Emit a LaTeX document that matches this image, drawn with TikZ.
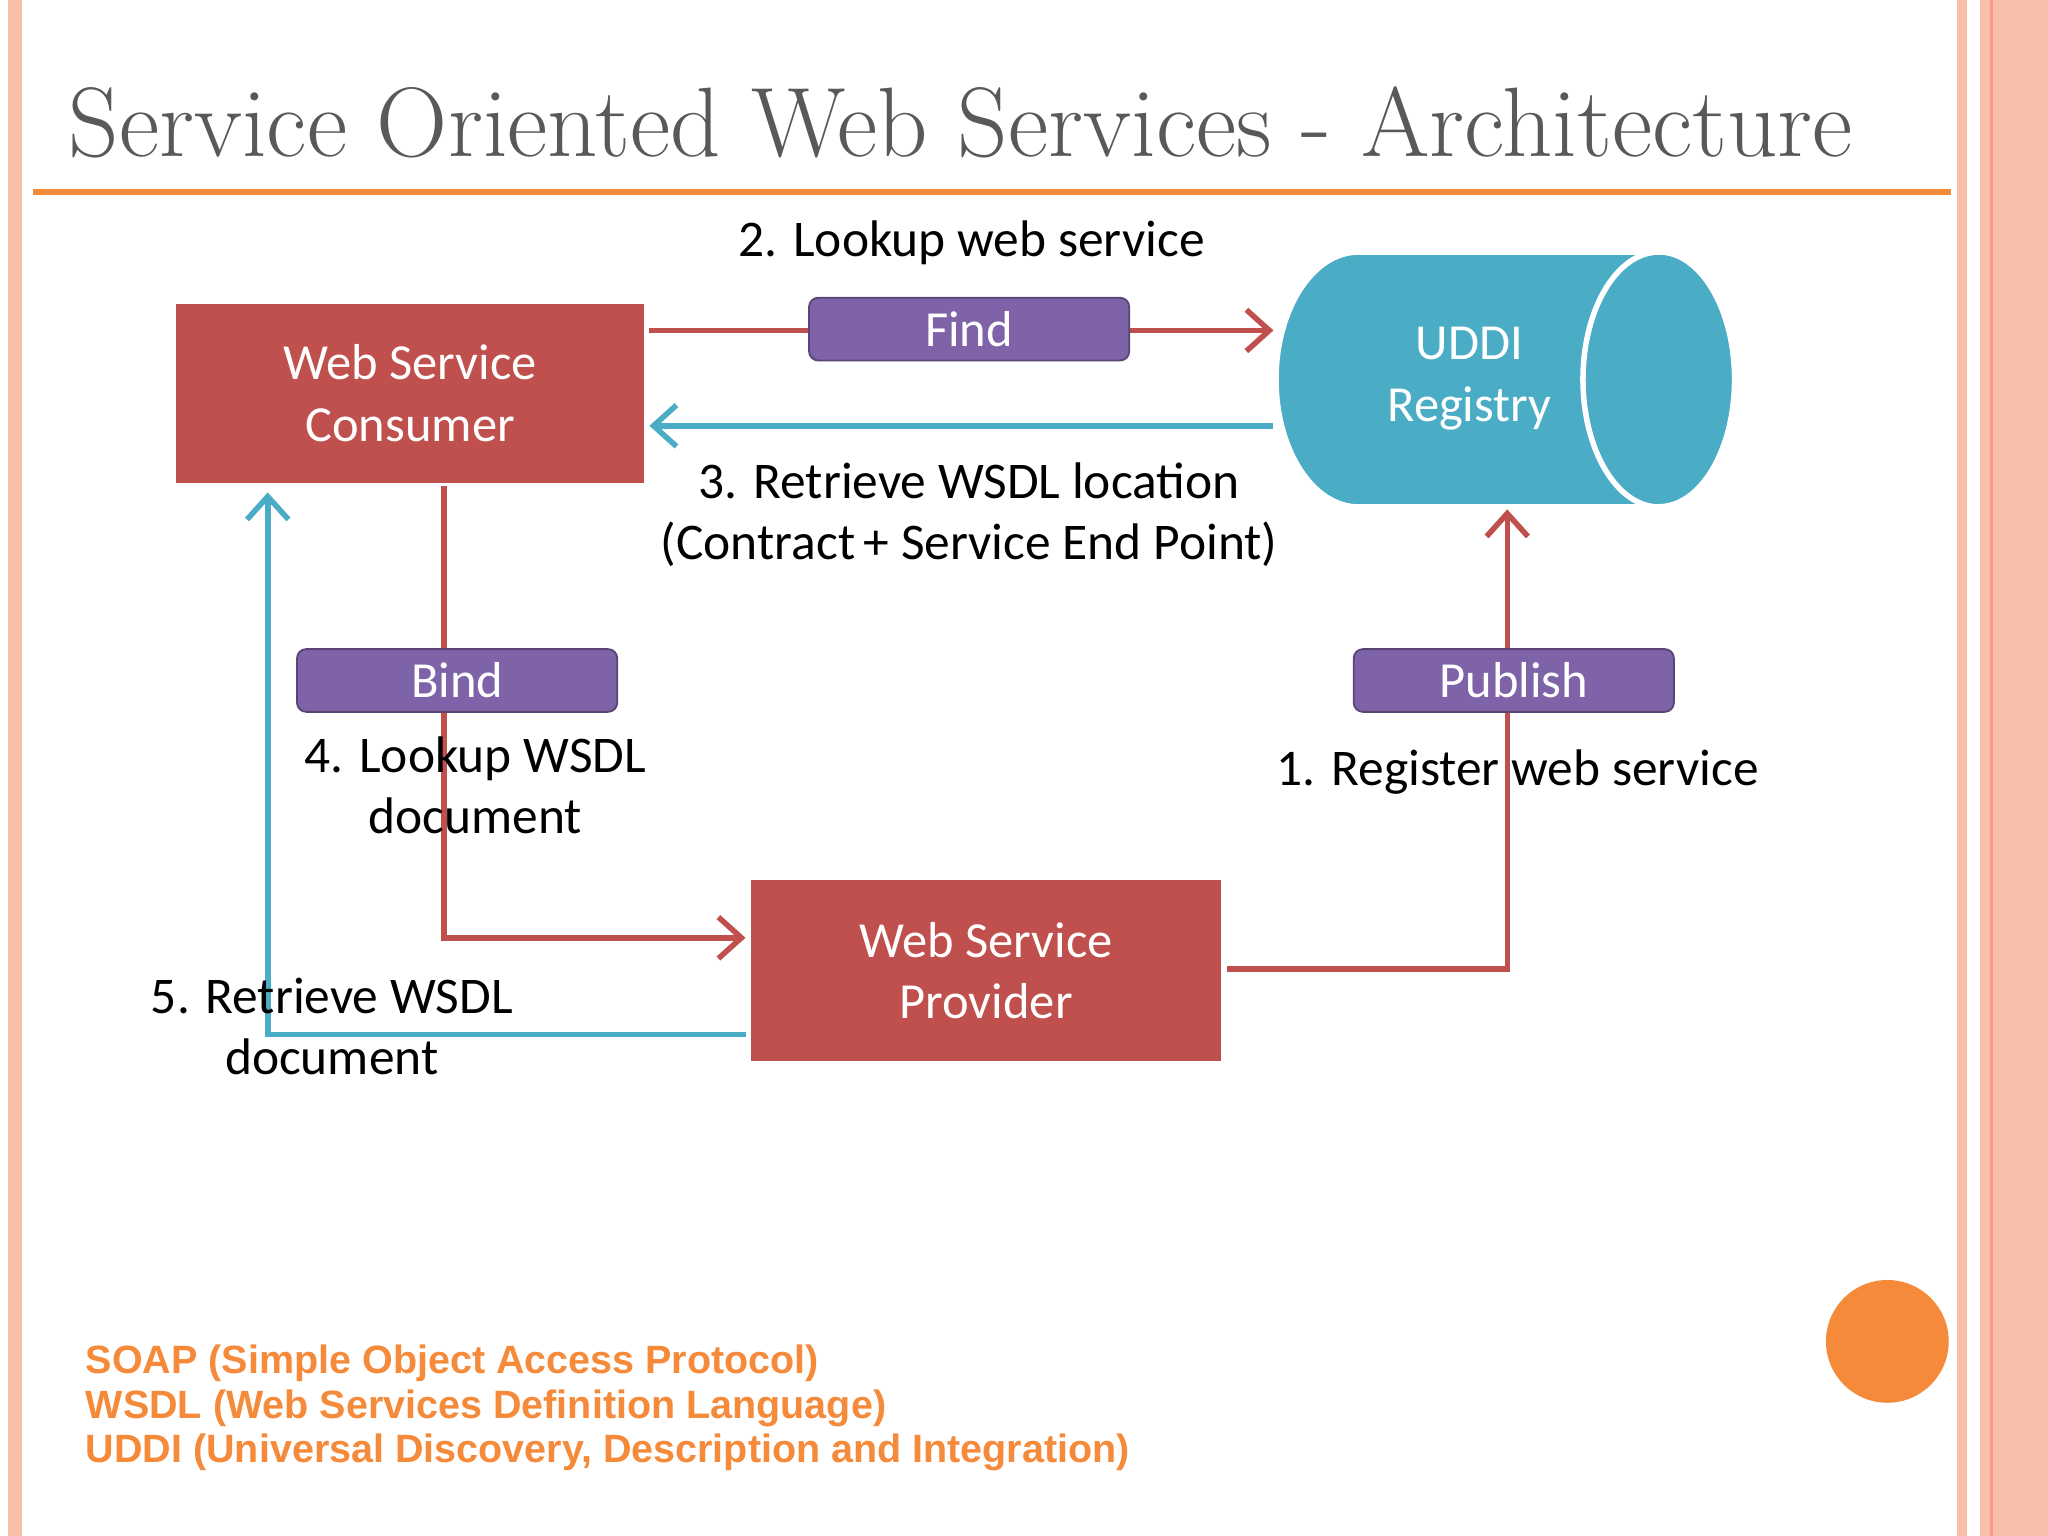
\documentclass[tikz,border=0pt]{standalone}
\usepackage{fontspec}
\setmainfont{Latin Modern Roman}
\newfontfamily\calfont{Carlito}
\newfontfamily\arifont{Liberation Sans}
\usetikzlibrary{arrows.meta,shapes.geometric}
\definecolor{dred}{HTML}{C0504D}
\definecolor{dblue}{HTML}{4BACC6}
\definecolor{purp}{HTML}{7F63A8}
\definecolor{org}{HTML}{F58A3A}
\definecolor{salm}{HTML}{F8C0AA}
\tikzset{
 box/.style={draw=white,line width=1.2pt,fill=dred,text=white,font=\calfont\fontsize{11}{13.4}\selectfont,align=center,inner sep=0pt},
 tag/.style={fill=purp,draw=purp!70!black,rounded corners=2pt,text=white,font=\calfont\fontsize{11}{13}\selectfont,minimum width=2.45cm,minimum height=0.48cm,inner sep=0pt},
 lbl/.style={font=\calfont\fontsize{11.2}{13.3}\selectfont,align=center,text=black},
 rl/.style={draw=dred,line width=1.2pt},
 bl/.style={draw=dblue,line width=1.2pt},
 arr/.style={-{Straight Barb[length=5pt,width=9pt]}}
}
\begin{document}
\begin{tikzpicture}[x=0.01cm,y=-0.01cm]
\useasboundingbox (0,0) rectangle (1568,1176);
\fill[white] (0,0) rectangle (1568,1176);
% borders
\fill[salm] (6,0) rectangle (17,1176);
\fill[salm] (1498,0) rectangle (1506,1176);
\fill[salm] (1516,0) rectangle (1568,1176);
\draw[salm!80!red,line width=0.6pt] (1525,0) -- (1525,1176);
% title
\node[anchor=base west,text=black!65,font=\fontsize{21.5}{24}\selectfont,inner sep=0pt] (title) at (52,120) {Service Oriented Web Services - Architecture};
\draw[org,line width=1.2pt] (25,147) -- (1494,147);
% boxes
\node[box,minimum width=3.62cm,minimum height=1.41cm] (cons) at (314,301) {Web Service\\Consumer};
\node[box,minimum width=3.64cm,minimum height=1.43cm] (prov) at (755,743) {Web Service\\Provider};
% cylinder
\path[fill=dblue,draw=white,line width=1.2pt] (1270,193) -- (1040,193) arc[start angle=90,end angle=270,x radius=0.63cm,y radius=0.975cm] -- (1270,388) arc[start angle=-90,end angle=90,x radius=0.58cm,y radius=0.975cm] -- cycle;
\draw[white,line width=1.2pt] (1270,193) arc[start angle=90,end angle=270,x radius=0.58cm,y radius=0.975cm];
\node[text=white,font=\calfont\fontsize{11}{13.4}\selectfont,align=center] (uddi) at (1125,290) {UDDI\\Registry};
\coordinate (ub) at (1154,390);
% connectors
\draw[rl,arr] (cons.east |- 0,253) -- (975,253);
\draw[bl,arr] (975,326) -- (cons.east |- 0,326);
\draw[rl,arr] (340,372) |- (prov.west |- 0,718);
\draw[bl,arr] (prov.west |- 0,792) -| (205,377);
\draw[rl,arr] (prov.east |- 0,742) -| (ub);
% tags
\node[tag] (find) at (742,252) {Find};
\node[tag] (bind) at (350,521) {Bind};
\node[tag] (pub) at (1159,521) {Publish};
% labels
\node[lbl] (l2) at (744,186) {2. Lookup web service};
\node[lbl] (l3) at (742,394) {3. Retrieve WSDL location\\(Contract\,+ Service End Point)};
\node[lbl] (l4) at (364,601) {4. Lookup WSDL\\document};
\node[lbl] (l1) at (1162,591) {1. Register web service};
\node[lbl] (l5) at (254,786) {5. Retrieve WSDL\\document};
% circle
\fill[org] (1445,1027) circle[radius=47];
% footer
\node[anchor=north west,align=left,text=org,font=\arifont\bfseries\fontsize{8.6}{9.7}\selectfont,inner sep=0pt] (foot) at (65,1029) {SOAP (Simple Object Access Protocol)\\WSDL (Web Services Definition Language)\\UDDI (Universal Discovery, Description and Integration)};
\end{tikzpicture}
\end{document}
